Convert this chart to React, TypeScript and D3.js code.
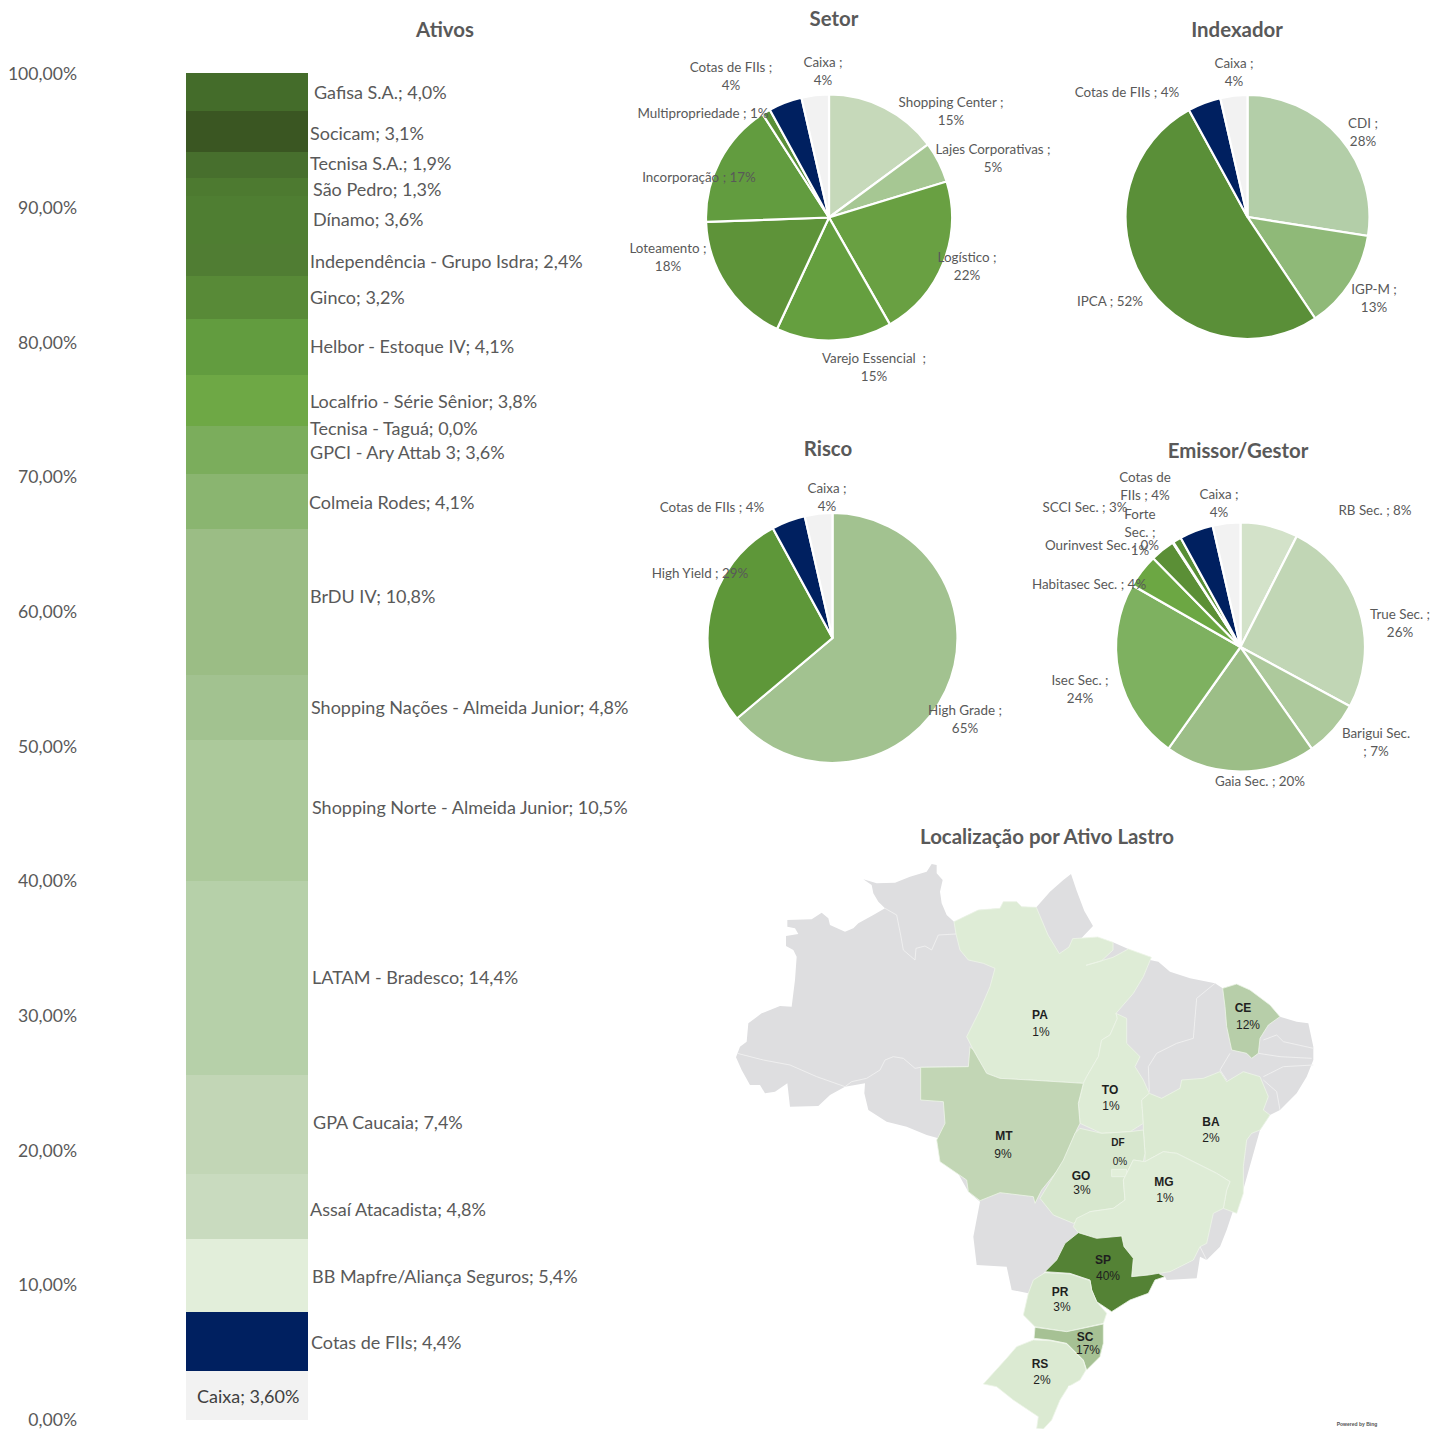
import React from 'react';
import * as d3 from 'd3';

const WIDTH = 1435;
const HEIGHT = 1429;
const LABEL_FONT = 'Lato, "Open Sans", sans-serif';
const MAP_FONT = '"Liberation Sans", Arial, sans-serif';
const TEXT_COLOR = '#595959';

// stacked column, bottom to top
const assetNames = ['Caixa', 'Cotas de FIIs', 'BB Mapfre/Aliança Seguros', 'Assaí Atacadista', 'GPA Caucaia', 'LATAM - Bradesco', 'Shopping Norte - Almeida Junior', 'Shopping Nações - Almeida Junior', 'BrDU IV', 'Colmeia Rodes', 'GPCI - Ary Attab 3', 'Tecnisa - Taguá', 'Localfrio - Série Sênior', 'Helbor - Estoque IV', 'Ginco', 'Independência - Grupo Isdra', 'Dínamo', 'São Pedro', 'Tecnisa S.A.', 'Socicam', 'Gafisa S.A.'];
const assetValues = [3.6, 4.4, 5.4, 4.8, 7.4, 14.4, 10.5, 4.8, 10.8, 4.1, 3.6, 0.0, 3.8, 4.1, 3.2, 2.4, 3.6, 1.3, 1.9, 3.1, 4.0];
const assetColors = ['#f2f2f2', '#002060', '#e2eeda', '#c9dbbf', '#c2d6b6', '#b6d0a9', '#acc99b', '#a2c290', '#9bbd85', '#8ab570', '#7bad5c', '#7bad5c', '#6ea845', '#629c3f', '#588a37', '#507d33', '#4f7e32', '#4d7a30', '#476f2d', '#3a5622', '#446c2a'];
const assetLabelX = [197, 311, 312, 310, 313, 312, 312, 311, 310, 309, 310, 310, 310, 310, 310, 310, 313, 313, 310, 310, 314];
const assetLabelY = [1397, 1343, 1277, 1210, 1123, 978, 808, 708, 597, 503, 453, 429, 402, 347, 298, 262, 220, 190, 164, 134, 93];
const axisTicks = [0, 10, 20, 30, 40, 50, 60, 70, 80, 90, 100];

const NAVY = '#002060';
const GREY = '#f2f2f2';

// pies: label, value, colour, and where the label sits (centre x, first line y)
const setorLines = [['Shopping Center ;'], ['Lajes Corporativas ;'], ['Logístico ;'], ['Varejo Essencial  ;'], ['Loteamento ;'], ['Incorporação ;'], ['Multipropriedade ;'], ['Cotas de FIIs ;'], ['Caixa ;']];
const setorValues = [14.9, 5.4, 21.5, 15.2, 17.5, 16.5, 1.1, 4.4, 3.6];
const setorColors = ['#c6d9ba', '#a6c793', '#69a042', '#659f3f', '#5e9339', '#629c3f', '#5a8f38', NAVY, GREY];
const setorInline = [false, false, false, false, false, true, true, false, false];
const setorX = [951, 993, 967, 874, 668, 699, 703, 731, 823];
const setorY = [102, 149, 257, 358, 248, 177, 113, 67, 62];

const indexLines = [['CDI ;'], ['IGP-M ;'], ['IPCA ;'], ['Cotas de FIIs ;'], ['Caixa ;']];
const indexValues = [27.6, 13.2, 51.6, 4.4, 3.6];
const indexColors = ['#b3cea8', '#8fb978', '#5a8f38', NAVY, GREY];
const indexInline = [false, false, true, true, false];
const indexX = [1363, 1374, 1110, 1127, 1234];
const indexY = [123, 289, 301, 92, 63];

const riscoLines = [['High Grade ;'], ['High Yield ;'], ['Cotas de FIIs ;'], ['Caixa ;']];
const riscoValues = [64.5, 28.5, 4.4, 3.6];
const riscoColors = ['#a2c290', '#5e9739', NAVY, GREY];
const riscoInline = [false, true, true, false];
const riscoX = [965, 700, 712, 827];
const riscoY = [710, 573, 507, 488];

const emissorLines = [['RB Sec. ;'], ['True Sec. ;'], ['Barigui Sec.', ';'], ['Gaia Sec. ;'], ['Isec Sec. ;'], ['Habitasec Sec. ;'], ['SCCI Sec. ;'], ['Ourinvest Sec. ;'], ['Forte', 'Sec. ;'], ['Cotas de', 'FIIs ;'], ['Caixa ;']];
const emissorValues = [7.5, 25.5, 7.4, 19.6, 23.5, 4.4, 3.2, 0.1, 1.1, 4.4, 3.6];
const emissorColors = ['#d3e2c9', '#c1d6b5', '#adc99c', '#9cbe87', '#7eb160', '#6ca743', '#5b8f36', '#628f3c', '#588e35', NAVY, GREY];
const emissorInline = [true, false, true, true, false, true, true, true, false, true, false];
const emissorX = [1375, 1400, 1376, 1260, 1080, 1089, 1085, 1102, 1140, 1145, 1219];
const emissorY = [510, 614, 733, 781, 680, 584, 507, 545, 514, 477, 494];

// Brazil outlines, in map units (1/3 px)
type Pt = [number, number];
const outlineBrazil: Pt[] = [[18, 622], [30, 590], [50, 575], [55, 520], [95, 490], [150, 468], [185, 470], [195, 390], [200, 320], [190, 300], [168, 288], [168, 258], [205, 252], [195, 235], [172, 230], [172, 210], [245, 208], [275, 188], [295, 205], [300, 225], [345, 245], [370, 235], [385, 220], [430, 195], [465, 175], [445, 155], [430, 130], [425, 105], [400, 88], [440, 100], [495, 98], [540, 80], [590, 65], [605, 42], [620, 45], [620, 70], [638, 90], [630, 125], [635, 160], [650, 195], [672, 215], [745, 180], [810, 175], [820, 155], [860, 155], [875, 170], [919, 172], [960, 125], [1000, 90], [1023, 72], [1040, 122], [1063, 183], [1089, 228], [1049, 270], [1149, 277], [1195, 297], [1260, 330], [1285, 335], [1320, 365], [1380, 385], [1455, 400], [1478, 415], [1520, 402], [1650, 500], [1700, 515], [1735, 520], [1750, 590], [1750, 630], [1730, 680], [1700, 730], [1650, 780], [1620, 795], [1590, 840], [1520, 1090], [1510, 1080], [1490, 1140], [1470, 1190], [1430, 1230], [1410, 1220], [1400, 1285], [1310, 1290], [1305, 1280], [1100, 1300], [945, 1265], [895, 1330], [845, 1320], [830, 1250], [740, 1245], [730, 1160], [750, 1055], [715, 1025], [625, 865], [590, 855], [530, 830], [470, 815], [415, 780], [403, 730], [405, 700], [345, 710], [300, 735], [265, 768], [180, 770], [172, 700], [135, 725], [105, 730], [90, 705], [60, 705], [35, 660]];
const greyBorders: Pt[][] = [
  [[22, 610], [100, 630], [180, 645], [260, 680], [345, 710], [365, 695], [410, 685], [450, 660], [465, 630], [490, 620], [520, 625], [555, 655], [572, 652], [715, 650]],
  [[465, 175], [500, 195], [512, 255], [520, 300], [555, 330], [558, 295], [585, 288], [605, 300], [625, 255], [678, 252]],
  [[1258, 725], [1255, 650], [1280, 610], [1340, 580], [1390, 565], [1400, 445], [1455, 400]],
  [[1500, 610], [1470, 660], [1490, 690]],
  [[1585, 610], [1650, 620], [1745, 625]],
  [[1600, 570], [1640, 555], [1660, 575], [1750, 595]],
  [[1600, 680], [1660, 650], [1750, 645]],
  [[1600, 690], [1640, 725], [1650, 780]],
  [[1410, 1190], [1430, 1230]]
];

const stateNames = ['PA', 'TO', 'CE', 'MT', 'BA', 'GO', 'DF', 'MG', 'SP', 'PR', 'SC', 'RS'];
const stateShares = [1, 1, 12, 9, 2, 3, 0, 1, 40, 3, 17, 2];
const stateOutlines: Pt[][] = [
  [[672, 215], [745, 180], [810, 175], [820, 155], [860, 155], [875, 170], [919, 172], [954, 255], [988, 311], [1017, 291], [1028, 266], [1103, 261], [1149, 277], [1149, 300], [1114, 333], [1068, 346], [1149, 322], [1195, 297], [1264, 322], [1240, 380], [1210, 430], [1158, 490], [1162, 505], [1140, 555], [1115, 570], [1105, 620], [1070, 680], [1060, 700], [900, 690], [810, 685], [770, 670], [730, 600], [710, 560], [750, 480], [780, 410], [795, 355], [760, 340], [715, 330], [690, 300], [678, 252]],
  [[1158, 490], [1190, 505], [1190, 580], [1230, 620], [1215, 650], [1240, 690], [1258, 730], [1235, 750], [1240, 820], [1200, 845], [1115, 850], [1050, 820], [1045, 760], [1060, 700], [1070, 680], [1105, 620], [1115, 570], [1140, 555], [1162, 505]],
  [[1478, 415], [1520, 402], [1560, 420], [1620, 465], [1650, 500], [1615, 525], [1590, 565], [1585, 610], [1565, 625], [1550, 610], [1505, 600], [1490, 530], [1485, 470]],
  [[720, 590], [730, 600], [770, 670], [810, 685], [900, 690], [1060, 700], [1045, 760], [1050, 820], [1040, 840], [1000, 940], [935, 1020], [915, 1060], [910, 1040], [810, 1028], [750, 1052], [715, 1025], [710, 990], [630, 935], [620, 870], [645, 820], [640, 755], [572, 750], [572, 652], [715, 650]],
  [[1235, 750], [1258, 730], [1295, 745], [1350, 715], [1355, 690], [1420, 685], [1470, 665], [1490, 695], [1540, 665], [1590, 680], [1615, 740], [1600, 780], [1620, 795], [1590, 840], [1565, 850], [1550, 870], [1540, 950], [1540, 1030], [1520, 1090], [1480, 1075], [1490, 1020], [1500, 995], [1460, 970], [1410, 945], [1340, 910], [1300, 905], [1245, 935], [1245, 910], [1240, 840], [1240, 820]],
  [[1050, 835], [1115, 850], [1200, 845], [1240, 840], [1245, 910], [1240, 935], [1210, 930], [1180, 990], [1185, 1050], [1150, 1075], [1080, 1085], [1030, 1120], [970, 1095], [930, 1045], [1000, 930], [1035, 850]],
  [[1145, 958], [1190, 958], [1190, 980], [1145, 980]],
  [[1210, 930], [1245, 935], [1300, 905], [1340, 910], [1410, 945], [1460, 970], [1500, 995], [1490, 1020], [1480, 1075], [1450, 1090], [1430, 1180], [1410, 1190], [1390, 1230], [1320, 1265], [1255, 1275], [1205, 1280], [1210, 1225], [1182, 1190], [1175, 1158], [1100, 1165], [1045, 1148], [1030, 1130], [1040, 1105], [1080, 1085], [1150, 1075], [1185, 1050], [1180, 990]],
  [[945, 1265], [980, 1230], [1005, 1180], [1045, 1148], [1100, 1165], [1175, 1158], [1182, 1190], [1210, 1225], [1205, 1280], [1255, 1275], [1285, 1270], [1305, 1280], [1275, 1290], [1255, 1330], [1200, 1350], [1145, 1385], [1100, 1355], [1085, 1320], [1080, 1290], [1020, 1270]],
  [[945, 1268], [1020, 1272], [1080, 1292], [1085, 1320], [1100, 1355], [1130, 1390], [1120, 1420], [1010, 1445], [915, 1430], [880, 1395], [895, 1330], [910, 1290]],
  [[915, 1432], [1010, 1445], [1120, 1422], [1120, 1480], [1110, 1520], [1070, 1560], [1060, 1530], [1010, 1480], [960, 1470], [912, 1465]],
  [[910, 1470], [960, 1472], [1010, 1482], [1060, 1532], [1068, 1560], [1050, 1590], [1015, 1610], [990, 1650], [965, 1710], [940, 1737], [920, 1735], [925, 1700], [850, 1650], [800, 1610], [760, 1602], [830, 1525], [860, 1490]]
];
const lagoonLine: Pt[] = [[1015, 1610], [1035, 1610], [1010, 1655], [980, 1690]];
const stateLabelX = [1040, 1110, 1243, 1004, 1211, 1081, 1118, 1164, 1103, 1060, 1085, 1040];
const stateLabelY = [1015, 1090, 1008, 1136, 1122, 1176, 1142, 1182, 1260, 1292, 1337, 1364];
const statePctX = [1041, 1111, 1248, 1003, 1211, 1082, 1120, 1165, 1108, 1062, 1088, 1042];
const statePctY = [1032, 1106, 1025, 1154, 1138, 1190, 1161, 1198, 1276, 1307, 1350, 1380];

const pct = (v: number) => `${Math.round(v)}%`;

interface PieProps {
  cx: number;
  cy: number;
  r: number;
  lines: string[][];
  values: number[];
  colors: string[];
  inline: boolean[];
  labelX: number[];
  labelY: number[];
}

const Pie: React.FC<PieProps> = ({ cx, cy, r, lines, values, colors, inline, labelX, labelY }) => {
  const arcs = d3.pie<number>().sort(null)(values);
  const arc = d3.arc<d3.PieArcDatum<number>>().innerRadius(0).outerRadius(r);
  return (
    <g>
      <g transform={`translate(${cx},${cy})`}>
        {arcs.map((a, i) => (
          <path key={i} d={arc(a) || ''} fill={colors[i]} stroke="#fff" strokeWidth={2.2} />
        ))}
      </g>
      {lines.map((ls, i) => {
        const rows = inline[i]
          ? [...ls.slice(0, -1), `${ls[ls.length - 1]} ${pct(values[i])}`]
          : [...ls, pct(values[i])];
        return rows.map((t, j) => (
          <text key={`${i}-${j}`} x={labelX[i]} y={labelY[i] + j * 18} textAnchor="middle" dominantBaseline="central"
            fontFamily={LABEL_FONT} fontSize={13.4} fill={TEXT_COLOR} style={{ whiteSpace: 'pre' }}>{t}</text>
        ));
      })}
    </g>
  );
};

const Title: React.FC<{ x: number; y: number; text: string }> = ({ x, y, text }) => (
  <text x={x} y={y - 1} textAnchor="middle" dominantBaseline="central" fontFamily={LABEL_FONT} fontSize={20.4} fontWeight={700} fill={TEXT_COLOR}>{text}</text>
);

const App: React.FC = () => {
  const y = d3.scaleLinear().domain([0, 100]).range([1419.5, 73]).clamp(true);
  const bars = d3.pairs(d3.cumsum([0, ...assetValues]));
  const mapX = d3.scaleLinear().domain([0, 1800]).range([730, 1330]);
  const mapY = d3.scaleLinear().domain([0, 1737]).range([850, 1429]);
  const mapLine = d3.line<Pt>().x(d => mapX(d[0])).y(d => mapY(d[1]));
  const mapArea = d3.line<Pt>().x(d => mapX(d[0])).y(d => mapY(d[1])).curve(d3.curveLinearClosed);
  const shade = d3.scaleLinear<string>().domain([0, 40]).range(['#e2efda', '#548235']);

  return (
    <svg width={WIDTH} height={HEIGHT} style={{ position: 'absolute', left: 0, top: 0, display: 'block' }}>
      <rect width={WIDTH} height={HEIGHT} fill="#fff" />

      {/* Ativos */}
      <Title x={445} y={30} text="Ativos" />
      {axisTicks.map(t => (
        <text key={t} x={77} y={y(t)} textAnchor="end" dominantBaseline="central" fontFamily={LABEL_FONT} fontSize={17.6} fill={TEXT_COLOR}>
          {`${t.toFixed(2).replace('.', ',')}%`}
        </text>
      ))}
      {bars.map(([lo, hi], i) => (
        <rect key={assetNames[i]} x={186} width={122} y={y(hi)} height={y(lo) - y(hi)} fill={assetColors[i]} shapeRendering="crispEdges" />
      ))}
      {assetNames.map((name, i) => (
        <text key={name} x={assetLabelX[i]} y={assetLabelY[i] - 1} dominantBaseline="central" fontFamily={LABEL_FONT} fontSize={18} fill={i === 0 ? '#404040' : TEXT_COLOR}>
          {`${name}; ${i === 0 ? assetValues[i].toFixed(2).replace('.', ',') : assetValues[i].toFixed(1).replace('.', ',')}%`}
        </text>
      ))}

      {/* pies */}
      <Title x={834} y={19} text="Setor" />
      <Pie cx={829} cy={217.5} r={123} lines={setorLines} values={setorValues} colors={setorColors} inline={setorInline} labelX={setorX} labelY={setorY} />
      <Title x={1237} y={30} text="Indexador" />
      <Pie cx={1247.5} cy={217} r={122} lines={indexLines} values={indexValues} colors={indexColors} inline={indexInline} labelX={indexX} labelY={indexY} />
      <Title x={828} y={449} text="Risco" />
      <Pie cx={832.5} cy={638} r={125} lines={riscoLines} values={riscoValues} colors={riscoColors} inline={riscoInline} labelX={riscoX} labelY={riscoY} />
      <Title x={1238} y={451} text="Emissor/Gestor" />
      <Pie cx={1240.5} cy={647} r={124.5} lines={emissorLines} values={emissorValues} colors={emissorColors} inline={emissorInline} labelX={emissorX} labelY={emissorY} />

      {/* map */}
      <Title x={1047} y={837} text="Localização por Ativo Lastro" />
      <path d={mapArea(outlineBrazil) || ''} fill="#dedee0" />
      {greyBorders.map((b, i) => (
        <path key={i} d={mapLine(b) || ''} fill="none" stroke="#f0f0f0" strokeWidth={0.9} />
      ))}
      {stateOutlines.map((o, i) => (
        <path key={stateNames[i]} d={mapArea(o) || ''} fill={shade(stateShares[i])} stroke="#eef5e9" strokeWidth={0.8} strokeLinejoin="round" />
      ))}
      <path d={mapLine(lagoonLine) || ''} fill="none" stroke="#fff" strokeWidth={1.6} />
      {stateNames.map((s, i) => (
        <g key={s} fontFamily={MAP_FONT} fontSize={s === 'DF' ? 10 : 12} fill="#1f1f1f" textAnchor="middle" dominantBaseline="central">
          <text x={stateLabelX[i]} y={stateLabelY[i]} fontWeight={700}>{s}</text>
          <text x={statePctX[i]} y={statePctY[i]}>{`${stateShares[i]}%`}</text>
        </g>
      ))}
      <text x={1357} y={1424} textAnchor="middle" dominantBaseline="central" fontFamily={MAP_FONT} fontSize={5} fontWeight={700} fill="#555">Powered by Bing</text>
    </svg>
  );
};

export default App;
